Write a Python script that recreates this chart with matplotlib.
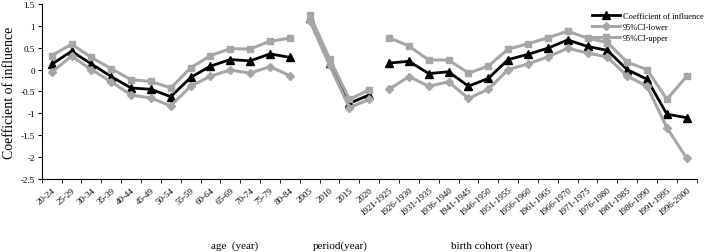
import matplotlib.pyplot as plt
import numpy as np

plt.rcParams['font.family'] = ['Liberation Serif', 'DejaVu Serif']

age = ["20-24", "25-29", "30-34", "35-39", "40-44", "45-49", "50-54",
       "55-59", "60-64", "65-69", "70-74", "75-79", "80-84"]
period = ["2005", "2010", "2015", "2020"]
cohort = ["1921-1925", "1926-1930", "1931-1935", "1936-1940", "1941-1945",
          "1946-1950", "1951-1955", "1956-1960", "1961-1965", "1966-1970",
          "1971-1975", "1976-1980", "1981-1985", "1986-1990", "1991-1995",
          "1996-2000"]

coef_age = [0.12, 0.42, 0.13, -0.16, -0.42, -0.45, -0.62, -0.18, 0.08, 0.23, 0.20, 0.36, 0.28]
lower_age = [-0.06, 0.31, 0.0, -0.28, -0.58, -0.65, -0.83, -0.38, -0.15, -0.01, -0.08, 0.07, -0.14]
upper_age = [0.32, 0.58, 0.28, 0.02, -0.23, -0.27, -0.42, 0.04, 0.32, 0.48, 0.47, 0.65, 0.72]

coef_period = [1.19, 0.16, -0.77, -0.58]
lower_period = [1.12, 0.10, -0.87, -0.68]
upper_period = [1.26, 0.25, -0.68, -0.46]

coef_cohort = [0.15, 0.19, -0.09, -0.05, -0.38, -0.20, 0.23, 0.35, 0.49, 0.68,
               0.53, 0.44, 0.0, -0.22, -1.02, -1.10]
lower_cohort = [-0.45, -0.16, -0.38, -0.28, -0.66, -0.45, 0.0, 0.13, 0.29, 0.49,
                0.38, 0.29, -0.15, -0.38, -1.33, -2.03]
upper_cohort = [0.73, 0.54, 0.22, 0.22, -0.08, 0.08, 0.47, 0.59, 0.73, 0.88,
                0.72, 0.62, 0.17, 0.0, -0.68, -0.15]

labels = age + period + cohort
GRAY = "#a6a6a6"

fig = plt.figure(figsize=(7.08, 2.53), dpi=100)
ax = fig.add_axes([0.059, 0.289, 0.925, 0.691])

groups = [(coef_age, lower_age, upper_age),
          (coef_period, lower_period, upper_period),
          (coef_cohort, lower_cohort, upper_cohort)]
start = 0
for i, (c, lo, up) in enumerate(groups):
    x = np.arange(start, start + len(c))
    ax.plot(x, c, color="black", lw=2, marker="^", ms=5.5,
            label="Coefficient of influence" if i == 0 else None, zorder=2)
    ax.plot(x, lo, color=GRAY, lw=2.2, marker="D", ms=3.8,
            label="95%CI-lower" if i == 0 else None, zorder=3)
    ax.plot(x, up, color=GRAY, lw=2.2, marker="s", ms=5,
            label="95%CI-upper" if i == 0 else None, zorder=4)
    start += len(c)

n = len(labels)
ax.set_xlim(-0.5, n - 0.5)
ax.set_ylim(-2.5, 1.5)
ax.set_yticks(np.arange(-2.5, 1.51, 0.5))
ax.set_yticklabels(["-2.5", "-2", "-1.5", "-1", "-0.5", "0", "0.5", "1", "1.5"], fontsize=6.5)
ax.set_xticks(np.arange(n))
ax.set_xticklabels(labels, rotation=40, ha="right", rotation_mode="anchor", fontsize=6.5)
ax.set_xticks(np.arange(-0.5, n, 1), minor=True)
ax.tick_params(axis="x", which="major", length=0, pad=5)
ax.tick_params(axis="x", which="minor", length=3, direction="out")
ax.tick_params(axis="y", length=3, direction="out", pad=2)
for s in ["top", "right"]:
    ax.spines[s].set_visible(False)
ax.set_ylabel("Coefficient of influence", fontsize=10, labelpad=3)

ax.legend(loc="upper right", bbox_to_anchor=(1.022, 1.0), frameon=False, fontsize=6,
          handlelength=3.4, labelspacing=0.4, handletextpad=0.3)

fig.text(0.332, 0.015, "age  (year)", fontsize=8, ha="center")
fig.text(0.48, 0.015, "period(year)", fontsize=8, ha="center")
fig.text(0.695, 0.015, "birth cohort (year)", fontsize=8, ha="center")

fig.savefig("out.png", dpi=100)
